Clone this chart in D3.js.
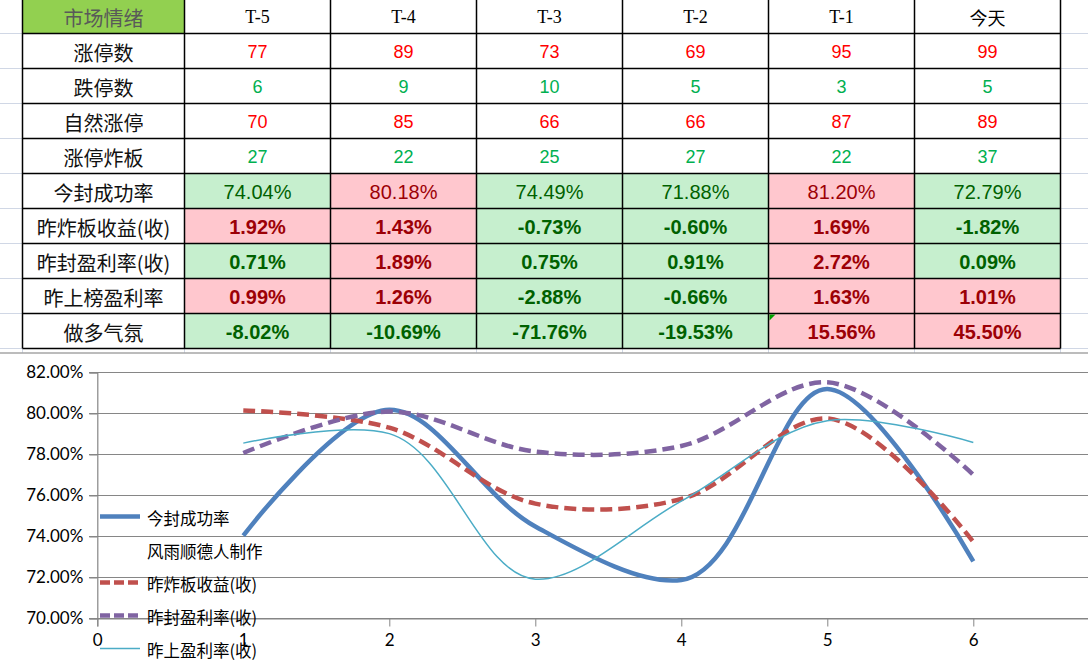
<!DOCTYPE html>
<html>
<head>
<meta charset="utf-8">
<script src="https://cdn.jsdelivr.net/npm/d3@7"></script>
<style>
  body { margin: 0; background: #fff; }
  svg { display: block; }
</style>
</head>
<body>
<svg id="sheet" width="1088" height="669"></svg>
<script>
// Table data.
const days = ["T-5", "T-4", "T-3", "T-2", "T-1", "今天"];
const limitUp = [77, 89, 73, 69, 95, 99];
const limitDown = [6, 9, 10, 5, 3, 5];
const naturalUp = [70, 85, 66, 66, 87, 89];
const brokenUp = [27, 22, 25, 27, 22, 37];
const sealRate = [74.04, 80.18, 74.49, 71.88, 81.2, 72.79];
const brokenRet = [1.92, 1.43, -0.73, -0.6, 1.69, -1.82];
const sealRet = [0.71, 1.89, 0.75, 0.91, 2.72, 0.09];
const listRet = [0.99, 1.26, -2.88, -0.66, 1.63, 1.01];
const bullMood = [-8.02, -10.69, -71.76, -19.53, 15.56, 45.5];

// Chart data.
const xTicks = [0, 1, 2, 3, 4, 5, 6];
const yTicks = [0.7, 0.72, 0.74, 0.76, 0.78, 0.8, 0.82];
const legendNames = ["今封成功率", "风雨顺德人制作", "昨炸板收益(收)", "昨封盈利率(收)", "昨上盈利率(收)"];

(function () {
  let svg = d3.select("#sheet");

  // Layout of the sheet.
  let colX = [22.5, 184.5, 330.5, 476.5, 622.5, 768.5, 914.5, 1060.5],
    rowY = d3.range(11).map((i) => (i === 0 ? -1.5 : 33.5 + 35 * (i - 1)));

  let countRows = [
    { name: "涨停数", vals: limitUp, color: "#ff0000" },
    { name: "跌停数", vals: limitDown, color: "#00b050" },
    { name: "自然涨停", vals: naturalUp, color: "#ff0000" },
    { name: "涨停炸板", vals: brokenUp, color: "#00b050" },
  ];
  let pctRows = [
    { name: "今封成功率", vals: sealRate, hot: 80, bold: false },
    { name: "昨炸板收益(收)", vals: brokenRet, hot: 0, bold: true },
    { name: "昨封盈利率(收)", vals: sealRet, hot: 1, bold: true },
    { name: "昨上榜盈利率", vals: listRet, hot: 0, bold: true },
    { name: "做多气氛", vals: bullMood, hot: 0, bold: true },
  ];

  // Faint spreadsheet gridlines outside the table.
  let grid = svg.append("g").attr("stroke", "#d0d7e5").attr("stroke-width", 1);
  rowY.slice(1).forEach((y) => {
    grid.append("line").attr("x1", 0).attr("x2", 22).attr("y1", y).attr("y2", y);
    grid.append("line").attr("x1", 1061).attr("x2", 1088).attr("y1", y).attr("y2", y);
  });
  colX.forEach((x) => {
    grid.append("line").attr("x1", x).attr("x2", x).attr("y1", 349).attr("y2", 353);
  });

  let cellW = (c) => colX[c + 1] - colX[c];
  let cx = (c) => (colX[c] + colX[c + 1]) / 2;
  let cy = (r) => (rowY[r] + rowY[r + 1]) / 2;
  let pct = (v) => d3.format(".2f")(v).replace("−", "-") + "%";

  // Header row.
  svg.append("rect")
    .attr("x", colX[0]).attr("y", rowY[0])
    .attr("width", cellW(0)).attr("height", rowY[1] - rowY[0])
    .attr("fill", "#92d050");
  svg.append("text")
    .attr("x", cx(0)).attr("y", cy(0) + 1)
    .attr("text-anchor", "middle").attr("dominant-baseline", "central")
    .attr("font-family", "Noto Sans CJK SC").attr("font-size", 20)
    .attr("fill", "#595959")
    .text("市场情绪");
  svg.selectAll("text.day")
    .data(days)
    .enter()
    .append("text")
    .attr("class", "day")
    .attr("x", (d, i) => cx(i + 1)).attr("y", cy(0) + 1)
    .attr("text-anchor", "middle").attr("dominant-baseline", "central")
    .attr("font-family", (d) => (d === "今天" ? "Noto Sans CJK SC" : "Liberation Serif"))
    .attr("font-size", 18)
    .attr("fill", "#000")
    .text((d) => d);

  // Count rows.
  countRows.forEach((row, r) => {
    let ri = r + 1;
    svg.append("text")
      .attr("x", cx(0)).attr("y", cy(ri) + 1)
      .attr("text-anchor", "middle").attr("dominant-baseline", "central")
      .attr("font-family", "Noto Sans CJK SC").attr("font-size", 20)
      .attr("fill", "#111")
      .text(row.name);
    row.vals.forEach((v, c) => {
      svg.append("text")
        .attr("x", cx(c + 1)).attr("y", cy(ri) + 1)
        .attr("text-anchor", "middle").attr("dominant-baseline", "central")
        .attr("font-family", "Liberation Sans")
        .attr("font-size", 18)
        .attr("fill", row.color)
        .text(v);
    });
  });

  // Percentage rows with red / green fills.
  pctRows.forEach((row, r) => {
    let ri = r + 5;
    svg.append("text")
      .attr("x", cx(0)).attr("y", cy(ri) + 1)
      .attr("text-anchor", "middle").attr("dominant-baseline", "central")
      .attr("font-family", "Noto Sans CJK SC").attr("font-size", 20)
      .attr("fill", "#111")
      .text(row.name);
    row.vals.forEach((v, c) => {
      let hot = v > row.hot;
      svg.append("rect")
        .attr("x", colX[c + 1]).attr("y", rowY[ri])
        .attr("width", cellW(c + 1)).attr("height", rowY[ri + 1] - rowY[ri])
        .attr("fill", hot ? "#ffc7ce" : "#c6efce");
      svg.append("text")
        .attr("x", cx(c + 1)).attr("y", cy(ri) + 1)
        .attr("text-anchor", "middle").attr("dominant-baseline", "central")
        .attr("font-family", "Liberation Sans")
        .attr("font-weight", row.bold ? "bold" : "normal")
        .attr("font-size", 20)
        .attr("fill", hot ? "#9c0006" : "#006100")
        .text(pct(v));
    });
  });

  // Table borders.
  let borders = svg.append("g").attr("stroke", "#000").attr("stroke-width", 1.5);
  rowY.forEach((y) => {
    borders.append("line").attr("x1", colX[0]).attr("x2", colX[7]).attr("y1", y).attr("y2", y);
  });
  colX.forEach((x) => {
    borders.append("line").attr("x1", x).attr("x2", x).attr("y1", rowY[0]).attr("y2", rowY[10]);
  });

  // Little comment marker on the T-1 cell.
  svg.append("path")
    .attr("d", `M${colX[5] + 1},${rowY[9] + 1}h6l-6,6z`)
    .attr("fill", "#00a000");

  // ---- Chart ----
  svg.append("line")
    .attr("x1", 0).attr("x2", 1088).attr("y1", 353).attr("y2", 353)
    .attr("stroke", "#a6a6a6").attr("stroke-width", 1.5);

  let x = d3.scaleLinear().domain([0, 7]).range([97.3, 1119.3]),
    y = d3.scaleLinear().domain([0.7, 0.82]).range([618.5, 372.5]),
    y2 = d3.scaleLinear().domain([-0.04, 0.03]).range([618.5, 372.5]);

  let chart = svg.append("g");

  // Horizontal gridlines.
  chart.append("g")
    .selectAll("line")
    .data(yTicks)
    .enter()
    .append("line")
    .attr("x1", 89).attr("x2", 1088)
    .attr("y1", (d) => y(d)).attr("y2", (d) => y(d))
    .attr("stroke", "#868686").attr("stroke-width", 1.2);

  // Y axis.
  let yAxis = chart.append("g")
    .attr("transform", `translate(${x(0)},0)`)
    .call(d3.axisLeft(y).tickValues(yTicks).tickFormat(d3.format(".2%")).tickSize(8).tickPadding(6));
  yAxis.select(".domain").attr("stroke", "#868686").attr("stroke-width", 1.2);
  yAxis.selectAll(".tick line").attr("stroke", "#868686");
  yAxis.selectAll("text")
    .attr("font-family", "Lato").attr("font-size", 17).attr("fill", "#000");

  // X axis.
  let xAxis = chart.append("g")
    .attr("transform", `translate(0,${y(0.7)})`)
    .call(d3.axisBottom(x).tickValues(xTicks).tickFormat(d3.format("d")).tickSize(8).tickPadding(7));
  xAxis.select(".domain").attr("stroke", "#868686").attr("stroke-width", 1.2);
  xAxis.selectAll(".tick line").attr("stroke", "#868686");
  xAxis.selectAll("text")
    .attr("font-family", "Lato").attr("font-size", 17).attr("fill", "#000");

  // Series.
  let series = [
    { vals: sealRate.map((v) => v / 100), scale: y, color: "#4f81bd", width: 4.5, dash: null },
    { vals: brokenRet.map((v) => v / 100), scale: y2, color: "#c0504d", width: 4.5, dash: "12,6" },
    { vals: sealRet.map((v) => v / 100), scale: y2, color: "#8064a2", width: 4.5, dash: "12,6" },
    { vals: listRet.map((v) => v / 100), scale: y2, color: "#4bacc6", width: 1.5, dash: null },
  ];

  series.forEach((s) => {
    let line = d3.line()
      .x((d, i) => x(i + 1))
      .y((d) => s.scale(d))
      .curve(d3.curveCatmullRom.alpha(1));
    chart.append("path")
      .datum(s.vals)
      .attr("d", line)
      .attr("fill", "none")
      .attr("stroke", s.color)
      .attr("stroke-width", s.width)
      .attr("stroke-dasharray", s.dash);
  });

  // Legend, drawn over the plot.
  let legendStyle = [series[0], null, series[1], series[2], series[3]];
  let legend = chart.append("g");
  legendNames.forEach((name, i) => {
    let ly = 516.5 + 33 * i,
      s = legendStyle[i];
    if (s) {
      legend.append("line")
        .attr("x1", 100).attr("x2", 140).attr("y1", ly).attr("y2", ly)
        .attr("stroke", s.color).attr("stroke-width", s.width)
        .attr("stroke-dasharray", s.dash ? "10,4" : null);
    }
    legend.append("text")
      .attr("x", 147).attr("y", ly + 1)
      .attr("dominant-baseline", "central")
      .attr("font-family", "Noto Sans CJK SC").attr("font-size", 16.5)
      .attr("fill", "#000")
      .text(name);
  });
})();
</script>
</body>
</html>
